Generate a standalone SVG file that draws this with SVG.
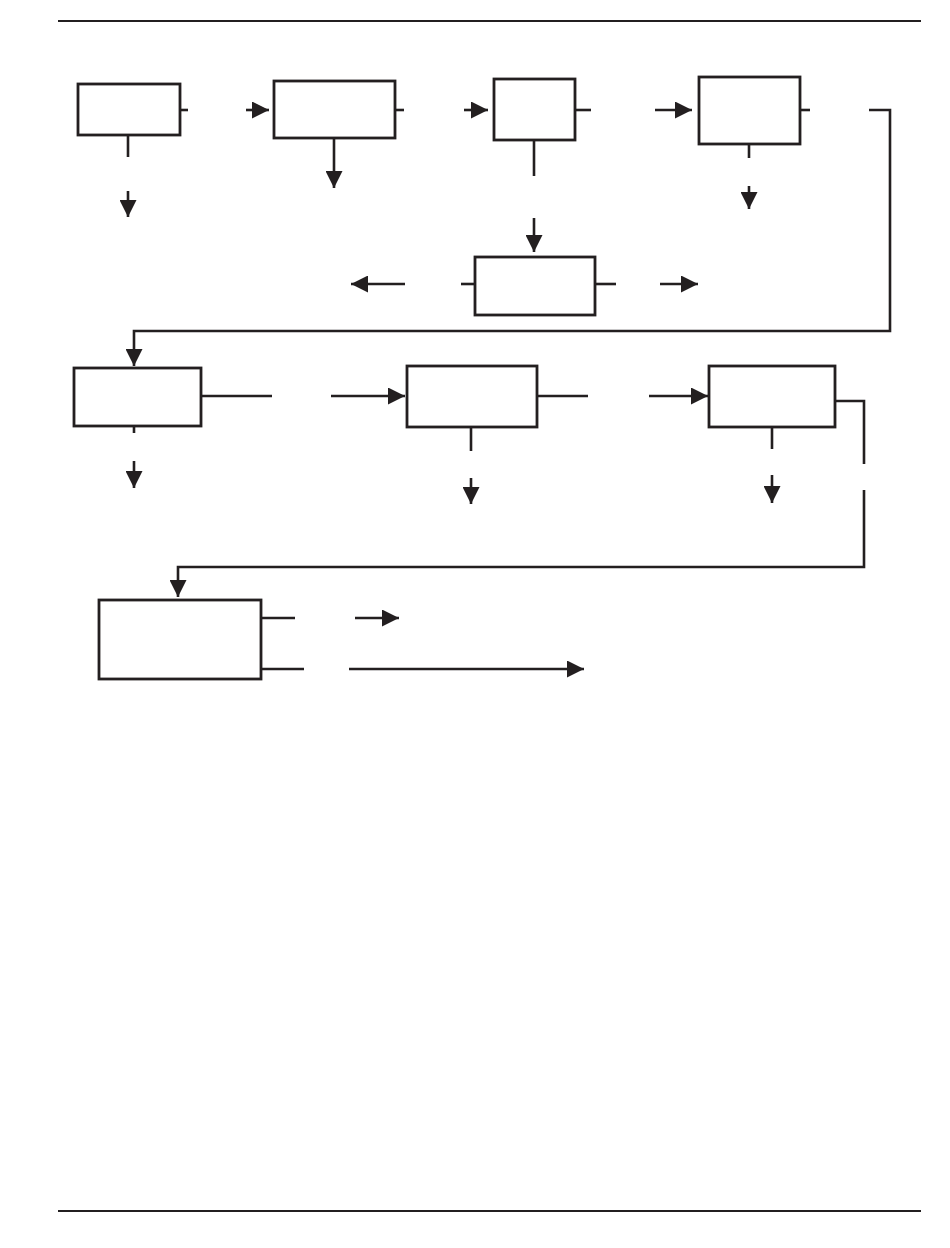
<svg xmlns="http://www.w3.org/2000/svg" width="950" height="1248" viewBox="0 0 950 1248">
<style>
.box{fill:#fff;stroke:#231f20;stroke-width:2.8}
.ln{fill:none;stroke:#231f20;stroke-width:2.6}
.rule{stroke:#231f20;stroke-width:2}
</style>
<defs>
<marker id="ah" markerUnits="userSpaceOnUse" markerWidth="17" markerHeight="17" refX="16" refY="8" orient="auto" viewBox="0 0 16 16">
<path d="M0,0 L16,8 L0,16 z" fill="#231f20"/>
</marker>
</defs>
<rect width="950" height="1248" fill="#fff"/>
<line class="rule" x1="58" y1="21" x2="921" y2="21"/>
<line class="rule" x1="58" y1="1211" x2="921" y2="1211"/>
<g id="connectors">
<!-- row 1 -->
<path class="ln" d="M180,110 H188"/>
<path class="ln" d="M128,136 V157"/>
<path class="ln" d="M128,191 V217" marker-end="url(#ah)"/>
<path class="ln" d="M246,110 H269" marker-end="url(#ah)"/>
<path class="ln" d="M334,138 V188" marker-end="url(#ah)"/>
<path class="ln" d="M395,110 H404"/>
<path class="ln" d="M464,110 H488" marker-end="url(#ah)"/>
<path class="ln" d="M575,110 H591"/>
<path class="ln" d="M534,140 V176"/>
<path class="ln" d="M534,218 V252" marker-end="url(#ah)"/>
<path class="ln" d="M655,110 H692" marker-end="url(#ah)"/>
<path class="ln" d="M800,110 H810"/>
<path class="ln" d="M749,144 V158"/>
<path class="ln" d="M749,186 V209" marker-end="url(#ah)"/>
<path class="ln" d="M869,110 H890 V331 H134 V366" marker-end="url(#ah)"/>
<!-- box5 -->
<path class="ln" d="M461,284 H475"/>
<path class="ln" d="M405,284 H351" marker-end="url(#ah)"/>
<path class="ln" d="M595,284 H616"/>
<path class="ln" d="M660,284 H698" marker-end="url(#ah)"/>
<!-- row 2 -->
<path class="ln" d="M201,396 H272"/>
<path class="ln" d="M331,396 H405" marker-end="url(#ah)"/>
<path class="ln" d="M134,426 V433"/>
<path class="ln" d="M134,461 V488" marker-end="url(#ah)"/>
<path class="ln" d="M537,396 H588"/>
<path class="ln" d="M649,396 H708" marker-end="url(#ah)"/>
<path class="ln" d="M471,427 V451"/>
<path class="ln" d="M471,478 V504" marker-end="url(#ah)"/>
<path class="ln" d="M772,427 V449"/>
<path class="ln" d="M772,475 V503" marker-end="url(#ah)"/>
<path class="ln" d="M835,401 H864 V464"/>
<path class="ln" d="M864,490 V567 H178 V597" marker-end="url(#ah)"/>
<!-- row 3 -->
<path class="ln" d="M261,618 H295"/>
<path class="ln" d="M355,618 H399" marker-end="url(#ah)"/>
<path class="ln" d="M261,669 H304"/>
<path class="ln" d="M349,669 H584" marker-end="url(#ah)"/>
</g>
<g id="n1"><rect class="box" x="78" y="84" width="102" height="51"/></g>
<g id="n2"><rect class="box" x="274" y="81" width="121" height="57"/></g>
<g id="n3"><rect class="box" x="494" y="79" width="81" height="61"/></g>
<g id="n4"><rect class="box" x="699" y="77" width="101" height="67"/></g>
<g id="n5"><rect class="box" x="475" y="257" width="120" height="58"/></g>
<g id="n6"><rect class="box" x="74" y="368" width="127" height="58"/></g>
<g id="n7"><rect class="box" x="407" y="366" width="130" height="61"/></g>
<g id="n8"><rect class="box" x="709" y="366" width="126" height="61"/></g>
<g id="n9"><rect class="box" x="99" y="600" width="162" height="79"/></g>
</svg>
